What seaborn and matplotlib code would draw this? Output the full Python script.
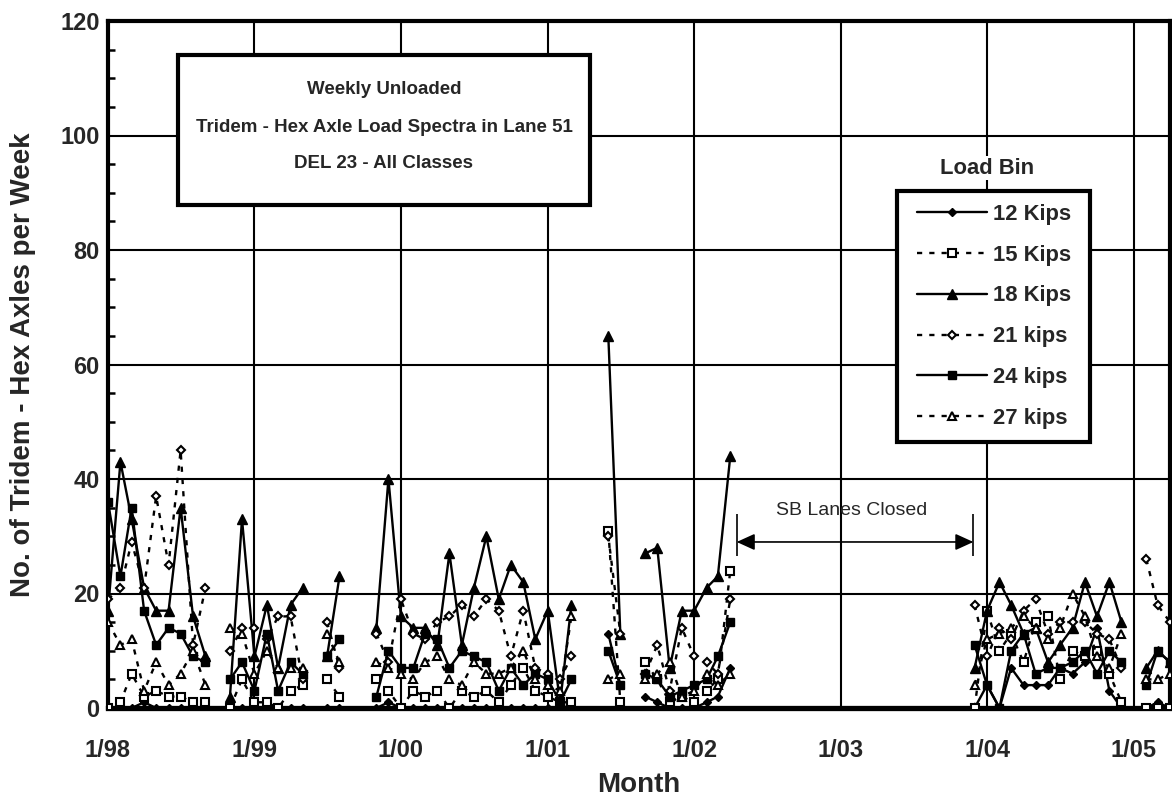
import pandas as pd
import matplotlib
matplotlib.use("Agg")
import matplotlib.pyplot as plt
import matplotlib.dates as mdates
from matplotlib.lines import Line2D
from matplotlib.patches import Rectangle
import seaborn as sns

# Sampled weeks (one per month) and axle counts per load bin
months = [
    "1998-01", "1998-02", "1998-03", "1998-04", "1998-05", "1998-06", "1998-07", "1998-08", "1998-09",
    "1998-11", "1998-12", "1999-01", "1999-02", "1999-03", "1999-04", "1999-05",
    "1999-07", "1999-08",
    "1999-11", "1999-12", "2000-01", "2000-02", "2000-03", "2000-04", "2000-05", "2000-06",
    "2000-07", "2000-08", "2000-09", "2000-10", "2000-11", "2000-12", "2001-01", "2001-02", "2001-03",
    "2001-06", "2001-07",
    "2001-09", "2001-10", "2001-11", "2001-12", "2002-01", "2002-02", "2002-03", "2002-04",
    "2003-12", "2004-01", "2004-02", "2004-03", "2004-04", "2004-05", "2004-06", "2004-07",
    "2004-08", "2004-09", "2004-10", "2004-11", "2004-12",
    "2005-02", "2005-03", "2005-04",
]
kips12 = [0, 0, 0, 1, 0, 0, 0, 0, 0,
          0, 0, 0, 0, 0, 0, 0,
          0, 0,
          0, 1, 0, 0, 0, 0, 0, 0, 0, 0, 0, 0, 0, 0, 0, 0, 0,
          13, 4,
          2, 1, 0, 0, 0, 1, 2, 7,
          0, 4, 0, 7, 4, 4, 4, 7, 6, 8, 14, 3, 0,
          0, 1, 0]
kips15 = [0, 1, 6, 2, 3, 2, 2, 1, 1,
          0, 5, 1, 1, 0, 3, 4,
          5, 2,
          5, 3, 0, 3, 2, 3, 0, 3, 2, 3, 1, 4, 7, 3, 2, 1, 1,
          31, 1,
          8, 5, 1, 2, 1, 3, 5, 24,
          0, 17, 10, 13, 8, 15, 16, 5, 10, 9, 10, 6, 1,
          0, 0, 0]
kips18 = [17, 43, 33, 21, 17, 17, 35, 16, 9,
          2, 33, 9, 18, 7, 18, 21,
          9, 23,
          14, 40, 16, 14, 14, 11, 27, 11, 21, 30, 19, 25, 22, 12, 17, 1, 18,
          65, 13,
          27, 28, 7, 17, 17, 21, 23, 44,
          7, 17, 22, 18, 13, 14, 8, 11, 14, 22, 16, 22, 15,
          7, 10, 8]
kips21 = [19, 21, 29, 21, 37, 25, 45, 11, 21,
          10, 14, 14, 12, 16, 16, 5,
          15, 7,
          13, 8, 19, 13, 12, 15, 16, 18, 16, 19, 17, 9, 17, 7, 6, 5, 9,
          30, 13,
          6, 11, 3, 14, 9, 8, 6, 19,
          18, 9, 14, 12, 17, 19, 13, 15, 15, 15, 13, 12, 7,
          26, 18, 15]
kips24 = [36, 23, 35, 17, 11, 14, 13, 9, 8,
          5, 8, 3, 13, 3, 8, 6,
          9, 12,
          2, 10, 7, 7, 13, 12, 7, 10, 9, 8, 3, 7, 4, 6, 5, 1, 5,
          10, 4,
          6, 5, 2, 3, 4, 5, 9, 15,
          11, 4, 0, 10, 13, 6, 7, 7, 8, 10, 6, 10, 8,
          4, 10, 8]
kips27 = [15, 11, 12, 3, 8, 4, 6, 10, 4,
          14, 13, 6, 10, 7, 7, 7,
          13, 8,
          8, 7, 6, 5, 8, 9, 5, 4, 8, 6, 6, 7, 10, 5, 4, 3, 16,
          5, 6,
          5, 6, 8, 2, 3, 6, 4, 6,
          4, 12, 13, 14, 16, 14, 12, 14, 20, 16, 9, 7, 13,
          5, 5, 6]

bin_labels = ["12 Kips", "15 Kips", "18 Kips", "21 kips", "24 kips", "27 kips"]
tick_labels = ["1/98", "1/99", "1/00", "1/01", "1/02", "1/03", "1/04", "1/05"]

# Line / marker style for each load bin: (marker, filled, dashed, size)
styles = {
    "12 Kips": ("D", True, False, 4.3),
    "15 Kips": ("s", False, True, 5.6),
    "18 Kips": ("^", True, False, 7.2),
    "21 kips": ("D", False, True, 4.3),
    "24 kips": ("s", True, False, 6.2),
    "27 kips": ("^", False, True, 6.2),
}

# Long-format table; a new segment starts wherever a month is skipped
dates = pd.to_datetime(months)
month_idx = dates.year * 12 + dates.month
segment = (pd.Series(month_idx).diff().fillna(1) > 1).cumsum()
series = [kips12, kips15, kips18, kips21, kips24, kips27]
frames = []
for label, vals in zip(bin_labels, series):
    frames.append(pd.DataFrame({"date": dates, "axles": vals,
                                "segment": segment.values, "bin": label}))
df = pd.concat(frames, ignore_index=True)

sns.set_style("white")
plt.rcParams["font.family"] = ["Liberation Sans", "DejaVu Sans"]

W, H = 1172, 800
fig = plt.figure(figsize=(W / 100, H / 100), dpi=100)
L, R, T, B = 108, 1170, 21, 708
ax = fig.add_axes([L / W, 1 - B / H, (R - L) / W, (B - T) / H])

def axx(px):
    return (px - L) / (R - L)

def axy(py):
    return (B - py) / (B - T)

DASH = (0, (2.2, 3.0))
LW = 1.7

def line_kw(label):
    marker, filled, dashed, ms = styles[label]
    return dict(color="black", marker=marker, markersize=ms,
                markerfacecolor="black" if filled else "white",
                markeredgecolor="black", markeredgewidth=1.0 if filled else 1.5,
                linewidth=LW, linestyle=DASH if dashed else "-")

for label in bin_labels:
    sns.lineplot(data=df[df["bin"] == label], x="date", y="axles", units="segment",
                 estimator=None, ax=ax, legend=False, zorder=3, **line_kw(label))

# Axes range, ticks and grid
x0, x1 = pd.Timestamp("1998-01-01"), pd.Timestamp("2005-04-01")
ax.set_xlim(mdates.date2num(x0), mdates.date2num(x1))
ax.set_ylim(0, 120)
year_ticks = [pd.Timestamp(f"{y}-01-01") for y in range(1998, 2006)]
ax.set_xticks(mdates.date2num(year_ticks))
ax.set_xticklabels(tick_labels, fontsize=17, fontweight="bold")
ax.set_yticks(range(0, 121, 20))
ax.set_yticklabels([str(v) for v in range(0, 121, 20)], fontsize=17, fontweight="bold")
ax.set_yticks(range(0, 121, 5), minor=True)
ax.tick_params(axis="x", which="both", length=0, pad=22)
ax.tick_params(axis="y", which="major", length=0, pad=6)
ax.tick_params(axis="y", which="minor", direction="in", length=5, width=1.8,
               color="black", left=True)
ax.grid(True, which="major", color="black", linewidth=1.5)
ax.set_axisbelow(True)
for side, lw in [("left", 3), ("top", 3), ("right", 3), ("bottom", 3.8)]:
    ax.spines[side].set_visible(True)
    ax.spines[side].set_color("black")
    ax.spines[side].set_linewidth(lw)
ax.set_xlabel("")
ax.set_ylabel("")

# Axis titles
fig.text(639 / W, 1 - 785 / H, "Month", ha="center", va="center",
         fontsize=20, fontweight="bold")
fig.text(23 / W, 1 - 365 / H, "No. of Tridem - Hex Axles per Week", ha="center",
         va="center", rotation=90, fontsize=20, fontweight="bold")

# Title box
ax.add_patch(Rectangle((axx(178), axy(205)), axx(590) - axx(178), axy(55) - axy(205),
                       transform=ax.transAxes, facecolor="white", edgecolor="black",
                       linewidth=3, zorder=6, clip_on=False))
for py, txt in [(90, "Weekly Unloaded"),
                (127, "Tridem - Hex Axle Load Spectra in Lane 51"),
                (164, "DEL 23 - All Classes")]:
    ax.text(axx(384), axy(py), txt, transform=ax.transAxes, ha="center", va="center",
            fontsize=13.5, fontweight="bold", zorder=7)

# Closure annotation
a0, a1 = pd.Timestamp("2002-04-17"), pd.Timestamp("2003-11-28")
ax.annotate("", xy=(mdates.date2num(a0), 29), xytext=(mdates.date2num(a1), 29),
            arrowprops=dict(arrowstyle="<|-|>,head_length=1.1,head_width=0.5",
                            color="black", lw=1.2, shrinkA=0, shrinkB=0), zorder=5)
ax.vlines([mdates.date2num(a0), mdates.date2num(a1)], 26.5, 33.8, color="black",
          linewidth=1.2, zorder=5)
ax.text(mdates.date2num(pd.Timestamp("2003-01-28")), 34.5, "SB Lanes Closed",
        ha="center", va="center", fontsize=14, zorder=5)

# Legend: frame drawn as a box, entries placed inside it
ax.add_patch(Rectangle((axx(897), axy(442)), axx(1090) - axx(897), axy(191) - axy(442),
                       transform=ax.transAxes, facecolor="white", edgecolor="black",
                       linewidth=3, zorder=7, clip_on=False))
handles = [Line2D([], [], **line_kw(label)) for label in bin_labels]
leg = ax.legend(handles, bin_labels, loc="upper left",
                bbox_to_anchor=(axx(917), axy(204)), bbox_transform=ax.transAxes,
                borderaxespad=0, borderpad=0, frameon=False,
                prop={"size": 15.8, "weight": "bold"}, handlelength=3.2,
                handletextpad=0.27, labelspacing=0.9)
leg.set_zorder(8)
ax.text(axx(987), axy(168), "Load Bin", transform=ax.transAxes, ha="center",
        va="center", fontsize=15.8, fontweight="bold", zorder=8,
        bbox=dict(facecolor="white", edgecolor="none", pad=1))

fig.savefig("out.png", dpi=100)
